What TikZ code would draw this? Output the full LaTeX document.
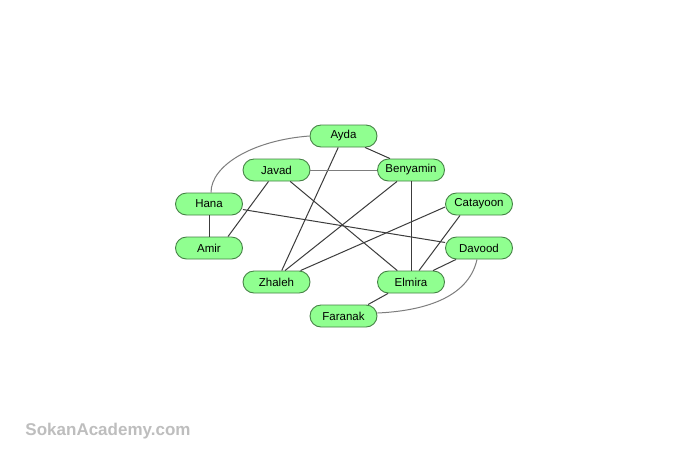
\documentclass[tikz,border=0pt]{standalone}
\usepackage{fontspec}
\setmainfont{Liberation Sans}
\definecolor{nodefill}{RGB}{144,255,144}
\definecolor{nodeborder}{RGB}{70,130,70}
\definecolor{darkedge}{RGB}{60,60,60}
\definecolor{lightedge}{RGB}{125,125,125}
\definecolor{wmark}{RGB}{190,190,190}
\begin{document}
\begin{tikzpicture}[x=1pt,y=-1pt,
  person/.style={draw=nodeborder,fill=nodefill,line width=0.9pt,rounded corners=11pt,
    minimum width=67pt,minimum height=22pt,inner sep=0pt,font=\fontsize{11.5}{13}\selectfont},
  edge/.style={draw=darkedge,line width=1pt},
  softedge/.style={draw=lightedge,line width=1pt}]
\path[fill=white] (0,0) rectangle (700,467);
\node[person] (Ayda) at (343.5,136) {Ayda};
\node[person] (Javad) at (276.5,170) {Javad};
\node[person] (Benyamin) at (411,170) {Benyamin};
\node[person] (Hana) at (209,204) {Hana};
\node[person] (Catayoon) at (479,204) {Catayoon};
\node[person] (Amir) at (209,248) {Amir};
\node[person] (Davood) at (479,248) {Davood};
\node[person] (Zhaleh) at (276.5,282) {Zhaleh};
\node[person] (Elmira) at (411,282) {Elmira};
\node[person] (Faranak) at (343.5,316) {Faranak};
\node[font=\fontsize{17}{20}\selectfont\bfseries,text=wmark] (wm) at (108,431) {SokanAcademy.com};
% edges
\draw[softedge] (Ayda.west) .. controls +(-55,4) and +(0,-28) .. ([xshift=2pt]Hana.north);
\draw[edge] ([xshift=21.5pt]Ayda.south) -- ([xshift=-21pt]Benyamin.north);
\draw[edge] (Ayda) -- (Zhaleh);
\draw[softedge] (Javad.east) -- (Benyamin.west);
\draw[edge] ([xshift=-8pt]Javad.south) -- ([xshift=19pt]Amir.north);
\draw[edge] (Javad) -- (Elmira);
\draw[edge] ([xshift=-14pt]Benyamin.south) -- ([xshift=8.5pt]Zhaleh.north);
\draw[edge] (Benyamin.south) -- (Elmira.north);
\draw[edge] (Hana.south) -- (Amir.north);
\draw[edge] (Hana) -- (Davood);
\draw[edge] ([yshift=-3pt]Catayoon.west) -- ([xshift=24pt]Zhaleh.north);
\draw[edge] ([xshift=-19pt]Catayoon.south) -- ([xshift=8pt]Elmira.north);
\draw[edge] ([xshift=-23pt]Davood.south) -- ([xshift=22pt]Elmira.north);
\draw[softedge] ([xshift=-2pt]Davood.south) .. controls +(-9,40) and +(43,-2) .. ([yshift=3pt]Faranak.east);
\draw[edge] ([xshift=-23pt]Elmira.south) -- ([xshift=24.5pt]Faranak.north);
\end{tikzpicture}
\end{document}
